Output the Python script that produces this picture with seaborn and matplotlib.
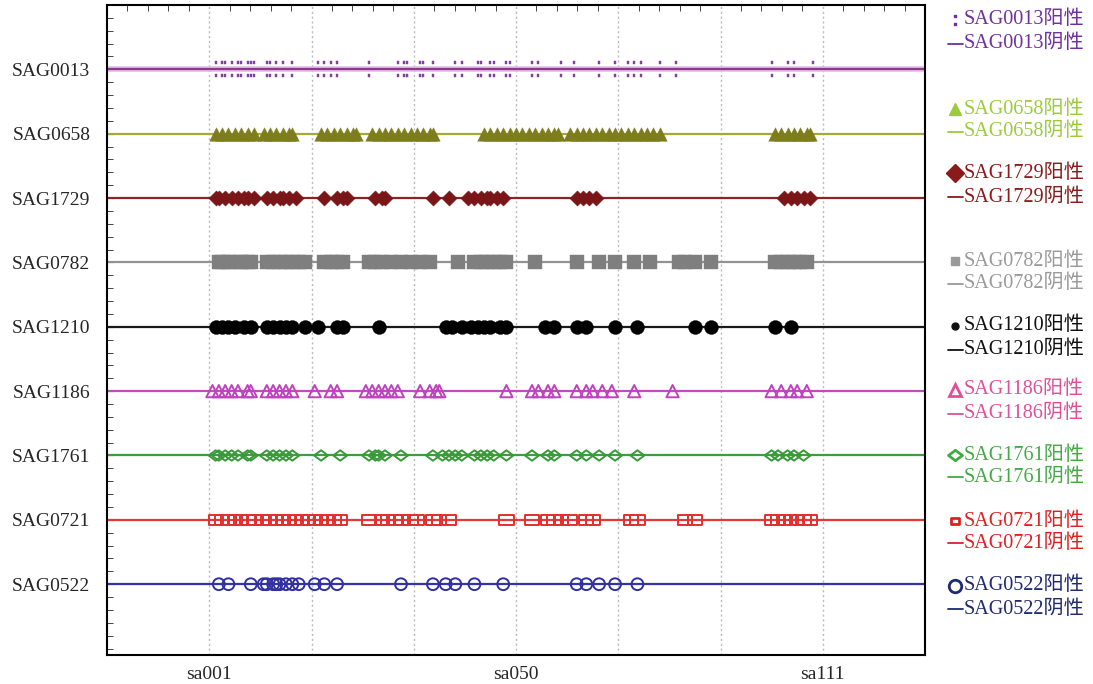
import matplotlib
matplotlib.use("Agg")
import matplotlib.pyplot as plt
from matplotlib.path import Path
from matplotlib.ticker import MultipleLocator
import seaborn as sns

# genes, top to bottom
genes = ["SAG0013", "SAG0658", "SAG1729", "SAG0782", "SAG1210",
         "SAG1186", "SAG1761", "SAG0721", "SAG0522"]

# positive sample indices (0 = sa001) per gene
pos_0013 = [2, 4, 5, 7, 9, 10, 12, 13, 14, 18, 19, 21, 23, 26, 34, 36, 38, 40, 50,
            59, 61, 62, 66, 67, 70, 77, 79, 84, 85, 88, 89, 93, 94, 101, 103, 110,
            114, 122, 127, 131, 133, 135, 141, 146, 176, 181, 183, 189]
pos_0658 = [2, 4, 6, 8, 10, 12, 14, 17, 19, 21, 23, 25, 26, 35, 37, 39, 41, 43, 45, 46,
            51, 53, 55, 57, 59, 61, 63, 65, 67, 69, 70, 86, 88, 90, 92, 94, 96, 98,
            100, 102, 104, 106, 108, 109, 113, 115, 117, 119, 121, 123, 125, 127, 129,
            131, 133, 135, 137, 139, 141, 177, 179, 181, 183, 185, 187, 188]
pos_1729 = [2, 3, 5, 7, 9, 11, 12, 14, 18, 20, 22, 23, 25, 27, 36, 40, 42, 43, 52, 54,
            55, 70, 75, 81, 83, 85, 87, 88, 90, 92, 115, 117, 119, 121, 180, 182, 184,
            186, 188]
pos_0782 = [3, 4, 6, 8, 10, 12, 13, 18, 20, 22, 24, 26, 28, 30, 36, 38, 40, 42, 50, 52,
            54, 57, 60, 63, 66, 69, 78, 83, 85, 87, 89, 91, 93, 102, 115, 122, 127, 133,
            138, 147, 149, 152, 157, 177, 179, 181, 183, 185, 187]
pos_1210 = [2, 4, 6, 8, 11, 13, 18, 20, 22, 24, 26, 30, 34, 40, 42, 53, 74, 76, 79, 82,
            84, 86, 88, 91, 93, 105, 108, 115, 118, 127, 134, 152, 157, 177, 182]
pos_1186 = [1, 3, 5, 7, 9, 12, 13, 18, 20, 22, 24, 26, 33, 38, 40, 49, 51, 53, 55, 57,
            59, 66, 69, 71, 72, 93, 101, 103, 106, 108, 115, 118, 120, 123, 126, 133,
            145, 176, 179, 182, 184, 187]
pos_1761 = [2, 3, 5, 7, 9, 12, 13, 18, 20, 22, 24, 26, 35, 41, 50, 52, 53, 55, 60, 70,
            73, 75, 77, 79, 83, 85, 87, 89, 93, 101, 106, 108, 115, 118, 122, 127, 134,
            176, 178, 181, 183, 186]
pos_0721 = [2, 4, 6, 8, 10, 12, 14, 17, 19, 21, 23, 25, 27, 29, 31, 33, 35, 37, 39, 41,
            50, 54, 56, 58, 60, 63, 65, 70, 72, 75, 93, 101, 106, 108, 110, 113, 118,
            120, 132, 134, 149, 152, 176, 178, 180, 182, 184, 186, 188]
pos_0522 = [3, 6, 13, 17, 18, 20, 21, 22, 24, 26, 28, 33, 36, 40, 60, 70, 74, 77, 83,
            92, 115, 118, 122, 127, 134]

positives = [pos_0013, pos_0658, pos_1729, pos_0782, pos_1210,
             pos_1186, pos_1761, pos_0721, pos_0522]

x_ticks = [0, 32, 64, 96, 128, 160, 192]
x_tick_labels = ["sa001", "", "", "sa050", "", "", "sa111"]

# marker shapes
colon = Path([(-0.2, 0.8), (0.2, 0.8), (0.2, 1.2), (-0.2, 1.2), (-0.2, 0.8),
              (-0.2, -1.2), (0.2, -1.2), (0.2, -0.8), (-0.2, -0.8), (-0.2, -1.2)],
             [Path.MOVETO, Path.LINETO, Path.LINETO, Path.LINETO, Path.CLOSEPOLY] * 2)
rect = Path([(-1, -0.75), (1, -0.75), (1, 0.75), (-1, 0.75), (-1, -0.75)],
            [Path.MOVETO, Path.LINETO, Path.LINETO, Path.LINETO, Path.CLOSEPOLY])
wide_diamond = Path([(-1, 0), (0, 0.75), (1, 0), (0, -0.75), (-1, 0)],
                    [Path.MOVETO, Path.LINETO, Path.LINETO, Path.LINETO, Path.CLOSEPOLY])

line_colors = ["#8b3a8b", "#a8a838", "#8b2424", "#939393", "#1a1a1a",
               "#c04cc0", "#3e9e3e", "#e03a3a", "#3434a8"]
mark_colors = ["#8040a0", "#7d7d1e", "#7a1518", "#7f7f7f", "#000000",
               "#c040c0", "#3a9a3a", "#e03030", "#3030a0"]
markers = [colon, "^", "D", "s", "o", "^", wide_diamond, rect, "o"]
hollow = [False, False, False, False, False, True, True, True, True]
sizes = [125, 95, 60, 105, 100, 78, 100, 105, 72]

legend_colors = ["#7030a0", "#9ccc3c", "#8b1a1a", "#9a9a9a", "#111111",
                 "#e0509a", "#44aa44", "#e02020", "#1f2a70"]
legend_y = [(20, 44), (109, 132), (173, 197), (261, 284), (326, 350),
            (390, 414), (455, 477), (521, 543), (586, 609)]
legend_ms = [7, 9, 9, 6, 5, 9, 10, 6, 9]

sns.set_style("white")
plt.rcParams["font.family"] = ["Liberation Serif", "Noto Sans CJK SC"]

W, H = 1093, 684
fig = plt.figure(figsize=(W / 100, H / 100), dpi=100)
ax = fig.add_axes([107 / W, 29 / H, 818 / W, 650 / H])

n = len(genes)
for i, g in enumerate(genes):
    y = n - 1 - i
    if i == 0:
        ax.axhline(y, color="#e6b8e6", lw=4, zorder=1)
    ax.axhline(y, color=line_colors[i], lw=1.6, zorder=2)
    xs = positives[i]
    kw = dict(marker=markers[i], s=sizes[i], color=mark_colors[i], zorder=3,
              legend=False, ax=ax)
    if hollow[i]:
        kw.update(facecolor="none", edgecolor=mark_colors[i], linewidth=1.4)
    else:
        kw.update(edgecolor=mark_colors[i], linewidth=0.3)
    sns.scatterplot(x=xs, y=[y] * len(xs), **kw)

ax.set_xlim(-32, 224)
ax.set_ylim(-1.1, 9.0)
ax.set_xticks(x_ticks)
ax.set_xticklabels(x_tick_labels, fontsize=14)
ax.set_yticks(range(n))
ax.set_yticklabels(genes[::-1], fontsize=14)
ax.yaxis.set_minor_locator(MultipleLocator(0.2))
ax.xaxis.set_minor_locator(MultipleLocator(6.4))
ax.tick_params(axis="y", which="both", direction="in", length=4, left=True, pad=12)
ax.tick_params(axis="x", which="major", direction="in", length=0, pad=8, bottom=True)
ax.tick_params(axis="x", which="minor", direction="in", length=4, top=True, bottom=False)
ax.grid(axis="x", which="major", color="#bbbbbb", linestyle=(0, (1.5, 2)), lw=1)
for sp in ax.spines.values():
    sp.set_color("black")
    sp.set_linewidth(1.5)

# side legend
lg = fig.add_axes([940 / W, 0, 153 / W, 1])
lg.set_xlim(940, 1093)
lg.set_ylim(H, 0)
lg.axis("off")
for i, g in enumerate(genes):
    y1, y2 = legend_y[i]
    c = legend_colors[i]
    m = markers[i]
    if hollow[i]:
        lg.plot([955], [y1], marker=m, ms=legend_ms[i], mfc="none", mec=c, mew=2, ls="none")
    else:
        lg.plot([955], [y1], marker=m, ms=legend_ms[i], color=c, mec=c, ls="none")
    lg.text(964, y1, g + "阳性", color=c, fontsize=14.5, va="center", ha="left")
    lg.plot([948, 963], [y2, y2], color=c, lw=1.3)
    lg.text(964, y2, g + "阴性", color=c, fontsize=14.5, va="center", ha="left")

fig.savefig("out.png", dpi=100)
